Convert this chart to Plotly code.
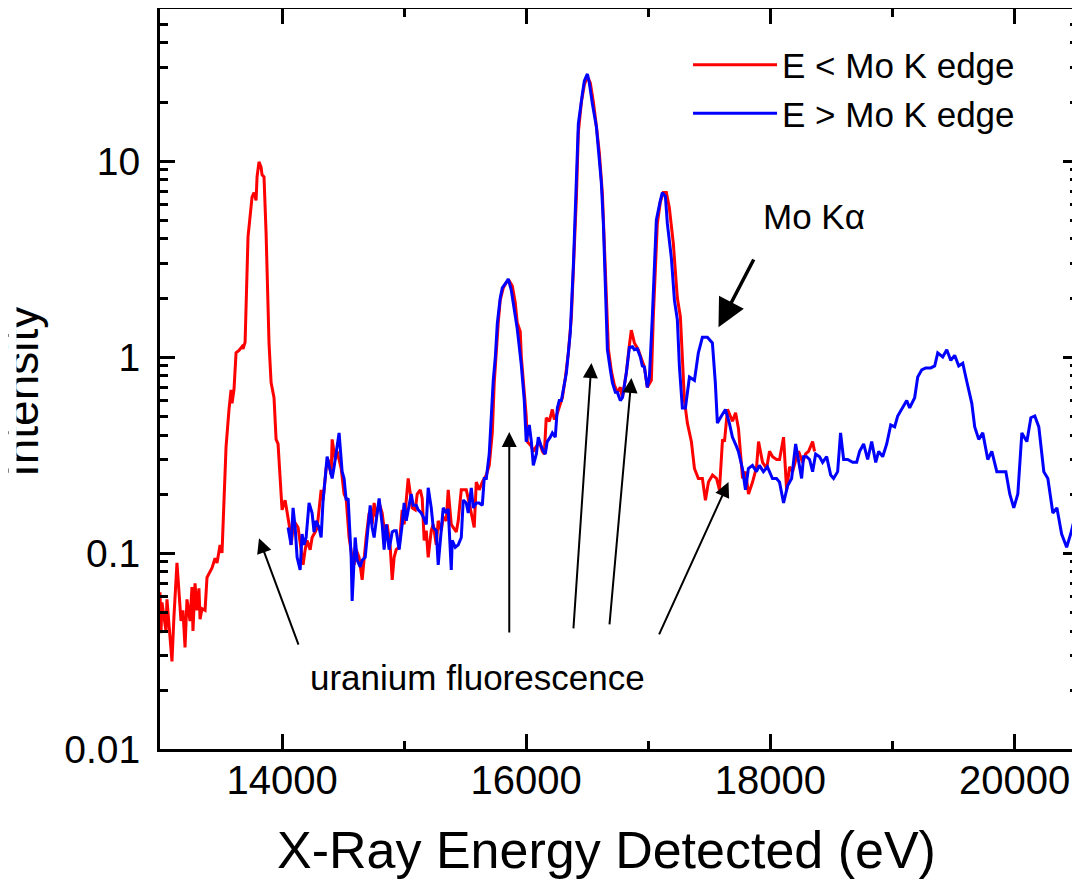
import math
import plotly.graph_objects as go

# ---------------- data ----------------
series_names = ["E < Mo K edge", "E > Mo K edge"]

energy_below = [
    13000, 13008, 13016, 13049, 13057, 13098, 13114, 13139, 13172, 13188, 13205, 13221, 13246, 13262,
    13270, 13287, 13303, 13319, 13328, 13344, 13369, 13385, 13426, 13451, 13467, 13483, 13492, 13508,
    13524, 13541, 13565, 13582, 13590, 13606, 13623, 13647, 13672, 13680, 13697, 13705, 13721, 13754,
    13770, 13787, 13795, 13811, 13828, 13836, 13852, 13869, 13885, 13893, 13910, 13934, 13951, 13967,
    13992, 14000, 14025, 14041, 14066, 14074, 14090, 14115, 14131, 14156, 14172, 14189, 14205, 14230,
    14246, 14271, 14287, 14320, 14336, 14361, 14377, 14402, 14410, 14435, 14451, 14484, 14508, 14525,
    14549, 14574, 14590, 14607, 14631, 14656, 14672, 14689, 14713, 14738, 14754, 14771, 14795, 14820,
    14845, 14861, 14886, 14902, 14918, 14935, 14959, 14984, 15000, 15017, 15033, 15058, 15066, 15091,
    15107, 15132, 15148, 15164, 15181, 15197, 15222, 15238, 15263, 15279, 15304, 15320, 15345, 15361,
    15386, 15402, 15427, 15443, 15468, 15484, 15509, 15525, 15550, 15574, 15591, 15615, 15640, 15656,
    15673, 15697, 15722, 15738, 15755, 15771, 15787, 15812, 15836, 15861, 15886, 15910, 15926, 15951,
    15960, 15976, 16000, 16009, 16042, 16058, 16083, 16107, 16132, 16148, 16164, 16189, 16214, 16230,
    16247, 16271, 16296, 16320, 16345, 16370, 16386, 16411, 16427, 16452, 16476, 16501, 16525, 16550,
    16575, 16599, 16624, 16640, 16656, 16673, 16697, 16722, 16747, 16771, 16788, 16820, 16845, 16861,
    16886, 16918, 16951, 16968, 16992, 17025, 17041, 17058, 17074, 17099, 17123, 17148, 17172, 17205,
    17238, 17263, 17279, 17296, 17320, 17353, 17378, 17410, 17443, 17468, 17493, 17526, 17559, 17583,
    17608, 17624, 17649, 17690, 17715, 17739, 17772, 17797, 17821, 17854, 17887, 17903, 17936, 17969,
    17993, 18018, 18051, 18075, 18108, 18133, 18157, 18182, 18215, 18231, 18264, 18289, 18313, 18346,
    18362,
]
intensity_below = [
    0.063, 0.039, 0.056, 0.040, 0.058, 0.028, 0.047, 0.089, 0.045, 0.051, 0.033, 0.058, 0.045, 0.067,
    0.040, 0.070, 0.051, 0.066, 0.046, 0.052, 0.051, 0.075, 0.084, 0.094, 0.089, 0.100, 0.110, 0.100,
    0.186, 0.347, 0.537, 0.68, 0.58, 0.68, 1.05, 1.08, 1.13, 1.10, 1.19, 1.95, 4.1, 6.55,
    6.9, 6.3, 8.3, 9.9, 9.3, 8.5, 8.3, 4.3, 1.95, 1.18, 0.74, 0.62, 0.38, 0.36,
    0.20, 0.166, 0.186, 0.16, 0.13, 0.11, 0.134, 0.14, 0.135, 0.104, 0.087, 0.104, 0.116, 0.104,
    0.12, 0.128, 0.134, 0.21, 0.186, 0.27, 0.30, 0.25, 0.38, 0.30, 0.33, 0.27, 0.20, 0.19,
    0.12, 0.095, 0.087, 0.104, 0.095, 0.073, 0.095, 0.12, 0.16, 0.14, 0.18, 0.153, 0.18, 0.16,
    0.12, 0.14, 0.107, 0.073, 0.095, 0.104, 0.107, 0.166, 0.14, 0.18, 0.24, 0.186, 0.17, 0.166,
    0.20, 0.21, 0.19, 0.116, 0.13, 0.095, 0.13, 0.14, 0.11, 0.146, 0.13, 0.153, 0.146, 0.21,
    0.14, 0.135, 0.128, 0.146, 0.21, 0.21, 0.21, 0.19, 0.16, 0.135, 0.23, 0.21, 0.23, 0.24,
    0.25, 0.28, 0.41, 0.74, 1.09, 1.5, 1.95, 2.25, 2.4, 2.45, 2.3, 1.9, 1.5, 1.35,
    1.0, 0.75, 0.5, 0.37, 0.35, 0.33, 0.35, 0.37, 0.33, 0.32, 0.49, 0.47, 0.54, 0.48,
    0.50, 0.55, 0.62, 0.78, 1.05, 1.6, 2.6, 6.5, 14.0, 20.0, 24.5, 27.0, 25.0, 20.0,
    15.0, 11.0, 6.8, 4.0, 2.0, 1.1, 0.85, 0.72, 0.66, 0.70, 0.62, 0.83, 1.15, 1.37,
    1.18, 1.09, 0.95, 0.89, 0.70, 0.76, 1.6, 3.0, 4.8, 6.2, 6.9, 6.9, 5.8, 3.8,
    2.0, 1.6, 1.0, 0.6, 0.46, 0.37, 0.27, 0.24, 0.24, 0.186, 0.23, 0.25, 0.24, 0.21,
    0.38, 0.37, 0.54, 0.47, 0.52, 0.43, 0.24, 0.26, 0.20, 0.23, 0.275, 0.37, 0.29, 0.27,
    0.33, 0.31, 0.30, 0.30, 0.39, 0.21, 0.275, 0.26, 0.31, 0.33, 0.29, 0.32, 0.33, 0.37,
    0.33,
]

energy_above = [
    14049, 14074, 14090, 14107, 14123, 14148, 14164, 14180, 14197, 14221, 14246, 14262, 14279, 14303,
    14320, 14336, 14353, 14369, 14385, 14410, 14426, 14443, 14467, 14492, 14508, 14525, 14541, 14566,
    14574, 14599, 14615, 14640, 14656, 14681, 14697, 14722, 14738, 14754, 14771, 14795, 14820, 14836,
    14853, 14877, 14902, 14918, 14935, 14959, 14984, 15000, 15017, 15033, 15058, 15074, 15099, 15115,
    15140, 15156, 15181, 15197, 15222, 15238, 15263, 15279, 15304, 15320, 15345, 15361, 15386, 15394,
    15419, 15443, 15468, 15484, 15509, 15525, 15550, 15566, 15591, 15615, 15640, 15656, 15673, 15697,
    15714, 15730, 15747, 15763, 15787, 15804, 15836, 15853, 15877, 15902, 15926, 15959, 15984, 16000,
    16025, 16042, 16058, 16083, 16099, 16123, 16140, 16156, 16172, 16197, 16214, 16238, 16255, 16271,
    16288, 16329, 16361, 16386, 16411, 16427, 16460, 16476, 16501, 16517, 16542, 16575, 16591, 16615,
    16632, 16648, 16665, 16689, 16706, 16730, 16747, 16771, 16788, 16820, 16845, 16870, 16886, 16910,
    16935, 16951, 16968, 16992, 17009, 17033, 17050, 17066, 17099, 17115, 17140, 17156, 17189, 17214,
    17238, 17255, 17279, 17304, 17337, 17378, 17410, 17443, 17484, 17525, 17549, 17566, 17599, 17632,
    17664, 17689, 17722, 17738, 17771, 17796, 17820, 17853, 17886, 17910, 17943, 17976, 18017, 18050,
    18075, 18108, 18141, 18174, 18207, 18231, 18256, 18272, 18297, 18321, 18346, 18371, 18403, 18428,
    18461, 18494, 18518, 18551, 18575, 18600, 18633, 18674, 18707, 18731, 18764, 18797, 18830, 18863,
    18887, 18920, 18953, 18986, 19018, 19043, 19084, 19117, 19141, 19182, 19207, 19240, 19272, 19314,
    19346, 19371, 19412, 19445, 19478, 19510, 19543, 19576, 19609, 19650, 19674, 19707, 19740, 19781,
    19814, 19855, 19896, 19929, 19961, 19994, 20027, 20060, 20101, 20134, 20166, 20199, 20240, 20273,
    20314, 20347, 20386, 20427, 20460, 20492, 20533,
]
intensity_above = [
    0.135, 0.11, 0.17, 0.135, 0.095, 0.082, 0.125, 0.11, 0.12, 0.18, 0.16, 0.128, 0.146, 0.135,
    0.12, 0.186, 0.24, 0.31, 0.28, 0.24, 0.275, 0.33, 0.41, 0.26, 0.24, 0.186, 0.19, 0.095,
    0.057, 0.12, 0.092, 0.085, 0.092, 0.095, 0.125, 0.175, 0.135, 0.12, 0.146, 0.19, 0.14, 0.104,
    0.14, 0.104, 0.128, 0.13, 0.13, 0.104, 0.14, 0.18, 0.146, 0.166, 0.20, 0.175, 0.175, 0.166,
    0.16, 0.153, 0.14, 0.215, 0.17, 0.135, 0.13, 0.087, 0.135, 0.17, 0.16, 0.168, 0.082, 0.116,
    0.107, 0.11, 0.12, 0.186, 0.18, 0.16, 0.215, 0.17, 0.18, 0.18, 0.175, 0.24, 0.24, 0.32,
    0.5, 0.76, 1.0, 1.48, 2.0, 2.25, 2.4, 2.5, 2.2, 1.75, 1.4, 0.92, 0.6, 0.37,
    0.45, 0.37, 0.28, 0.32, 0.39, 0.35, 0.33, 0.32, 0.37, 0.39, 0.41, 0.39, 0.55, 0.6,
    0.6, 0.83, 1.33, 2.9, 7.7, 15.5, 22.0, 25.6, 27.8, 25.0, 19.6, 14.9, 11.5, 7.8,
    4.8, 2.4, 1.09, 0.86, 0.74, 0.66, 0.66, 0.6, 0.62, 0.83, 1.12, 1.13, 1.09, 1.1,
    1.0, 0.9, 0.89, 0.7, 0.79, 1.6, 3.2, 5.0, 6.3, 6.9, 6.6, 4.8, 3.2, 1.95,
    1.55, 0.89, 0.55, 0.55, 0.79, 0.76, 1.05, 1.26, 1.26, 1.18, 0.74, 0.46, 0.5, 0.54,
    0.46, 0.39, 0.35, 0.33, 0.27, 0.21, 0.27, 0.28, 0.26, 0.28, 0.26, 0.275, 0.24, 0.24,
    0.23, 0.18, 0.22, 0.24, 0.36, 0.30, 0.24, 0.31, 0.31, 0.30, 0.26, 0.32, 0.31, 0.29,
    0.31, 0.25, 0.24, 0.26, 0.41, 0.30, 0.30, 0.29, 0.29, 0.33, 0.36, 0.30, 0.37, 0.29,
    0.33, 0.31, 0.36, 0.45, 0.44, 0.50, 0.55, 0.60, 0.55, 0.62, 0.79, 0.86, 0.88, 0.88,
    0.90, 1.05, 1.0, 1.09, 0.96, 1.02, 0.90, 0.93, 0.75, 0.58, 0.44, 0.38, 0.41, 0.30,
    0.33, 0.26, 0.26, 0.26, 0.20, 0.17, 0.20, 0.41, 0.37, 0.49, 0.50, 0.44, 0.26, 0.24,
    0.16, 0.17, 0.125, 0.107, 0.125, 0.15, 0.11,
]

x_tick_values = [14000, 16000, 18000, 20000]
x_tick_labels = ["14000", "16000", "18000", "20000"]
x_minor_values = [15000, 17000, 19000]
y_tick_values = [0.01, 0.1, 1, 10]
y_tick_labels = ["0.01", "0.1", "1", "10"]
y_minor_values = [0.02, 0.03, 0.04, 0.05, 0.06, 0.07, 0.08, 0.09,
                  0.2, 0.3, 0.4, 0.5, 0.6, 0.7, 0.8, 0.9,
                  2, 3, 4, 5, 6, 7, 8, 9,
                  20, 30, 40, 50, 60]

# arrows: (tip energy, tip intensity, tail energy, tail intensity)
fluorescence_arrows = [
    (13811, 0.119, 14139, 0.0335),
    (15861, 0.414, 15861, 0.0386),
    (16534, 0.931, 16386, 0.0405),
    (16862, 0.782, 16681, 0.0425),
    (17657, 0.230, 17083, 0.0378),
]
mo_arrow = (17575, 1.42, 17870, 3.20)

FONT = "Liberation Sans, Arial, Helvetica, sans-serif"

fig = go.Figure()
fig.add_trace(go.Scatter(x=energy_below, y=intensity_below, mode="lines", name=series_names[0],
                         line=dict(color="#FF0000", width=3)))
fig.add_trace(go.Scatter(x=energy_above, y=intensity_above, mode="lines", name=series_names[1],
                         line=dict(color="#0000FF", width=3)))

annotations = []
for tx, ty, sx, sy in fluorescence_arrows:
    annotations.append(dict(x=tx, y=math.log10(ty), ax=sx, ay=math.log10(sy), xref="x", yref="y",
                            axref="x", ayref="y", text="", showarrow=True, arrowhead=2,
                            arrowsize=1.5, arrowwidth=2, arrowcolor="black", standoff=0))
annotations.append(dict(x=mo_arrow[0], y=math.log10(mo_arrow[1]), ax=mo_arrow[2], ay=math.log10(mo_arrow[3]),
                        xref="x", yref="y", axref="x", ayref="y", text="", showarrow=True, arrowhead=2,
                        arrowsize=1.6, arrowwidth=3.5, arrowcolor="black", standoff=0))
annotations.append(dict(x=15599, y=math.log10(0.0233), xref="x", yref="y", text="uranium fluorescence",
                        showarrow=False, font=dict(size=35, family=FONT, color="black"),
                        xanchor="center", yanchor="middle"))
annotations.append(dict(x=18354, y=math.log10(5.18), xref="x", yref="y", text="Mo Kα",
                        showarrow=False, font=dict(size=35, family=FONT, color="black"),
                        xanchor="center", yanchor="middle"))
# axis titles
annotations.append(dict(x=0.486, y=-0.1365, xref="paper", yref="paper", text="X-Ray Energy Detected (eV)",
                        showarrow=False, font=dict(size=52, family=FONT, color="black"),
                        xanchor="center", yanchor="middle"))
annotations.append(dict(x=-0.1503, y=0.4824, xref="paper", yref="paper", text="Intensity", textangle=-90,
                        showarrow=False, font=dict(size=46, family=FONT, color="black"),
                        xanchor="center", yanchor="middle"))
# the left edge of the original picture trims the top of the title glyphs
annotations.append(dict(x=-0.1656, y=0.4824, xref="paper", yref="paper", text=" ", width=7, height=320,
                        bgcolor="white", borderpad=0, showarrow=False, xanchor="left", yanchor="middle"))

# the page body adds an 8 px offset, so the figure is sized to end at the window edge
fig.update_layout(
    width=1072, height=879,
    margin=dict(l=152, r=2, t=1, b=138, autoexpand=False),
    paper_bgcolor="white", plot_bgcolor="white",
    font=dict(family=FONT, color="black"),
    showlegend=True,
    legend=dict(x=0.5752, y=0.9643, xanchor="left", yanchor="top", font=dict(size=35, family=FONT),
                bgcolor="rgba(0,0,0,0)", borderwidth=0, itemwidth=84),
    annotations=annotations,
)
fig.update_xaxes(range=[13000, 20520], tickmode="array", tickvals=x_tick_values, ticktext=x_tick_labels,
                 ticks="inside", ticklen=15, tickwidth=3, tickcolor="black", automargin=False,
                 showline=True, linewidth=3, linecolor="black", mirror="ticks",
                 showgrid=False, zeroline=False, tickfont=dict(size=40, family=FONT),
                 ticklabelstandoff=-6,
                 minor=dict(tickmode="array", tickvals=x_minor_values, ticks="inside", ticklen=8,
                            tickwidth=3, tickcolor="black", showgrid=False))
fig.update_yaxes(type="log", range=[-2, 1.7755], tickmode="array", tickvals=y_tick_values,
                 ticktext=y_tick_labels, ticks="inside", ticklen=15, tickwidth=3, tickcolor="black",
                 showline=True, linewidth=3, linecolor="black", mirror="ticks", automargin=False,
                 showgrid=False, zeroline=False, tickfont=dict(size=39, family=FONT),
                 ticklabelstandoff=9,
                 minor=dict(tickmode="array", tickvals=y_minor_values, ticks="inside", ticklen=8,
                            tickwidth=3, tickcolor="black", showgrid=False))

fig.write_html("out.html")
